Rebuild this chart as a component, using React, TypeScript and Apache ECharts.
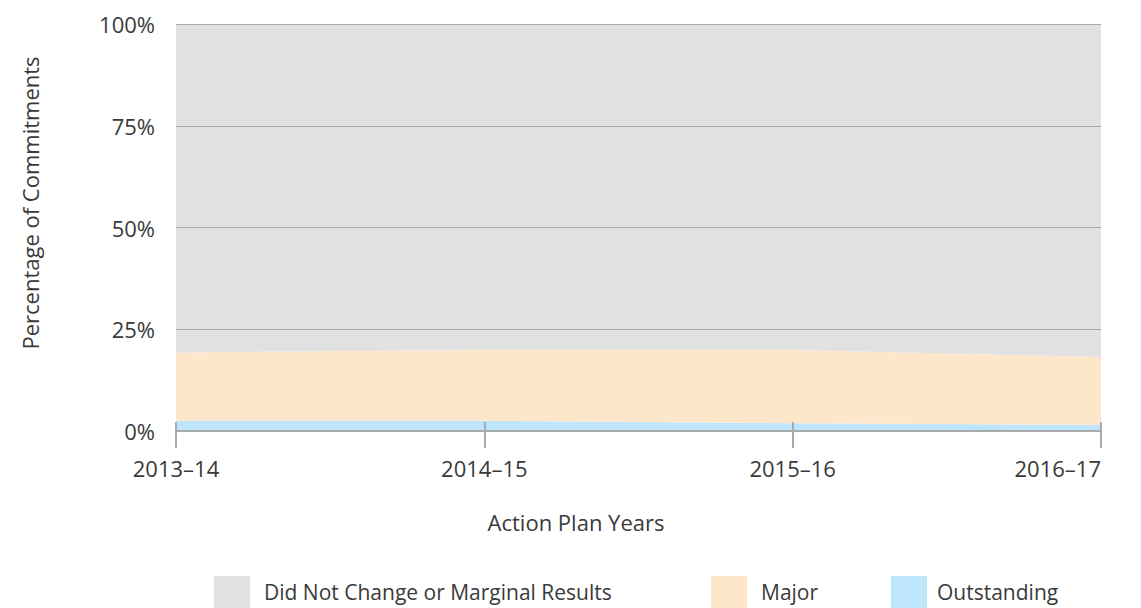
import React, { useEffect, useRef } from "react";
import * as echarts from "echarts";

const categories = ["2013–14", "2014–15", "2015–16", "2016–17"];
const outstanding = [2.5, 2.5, 1.9, 1.5];
const major = [16.8, 17.4, 18.0, 16.7];
const didNotChange = [80.7, 80.1, 80.1, 81.8];
const yTicks = [0, 25, 50, 75, 100];

const FONT = "'Open Sans', Lato, sans-serif";
const TEXT = "#3a3a3a";
const FS = 22;

export default function App() {
  const ref = useRef<HTMLDivElement>(null);
  useEffect(() => {
    if (!ref.current) return;
    const chart = echarts.init(ref.current, null, { renderer: "svg" });
    const area = (name: string, data: number[], color: string) => ({
      name,
      type: "line",
      stack: "total",
      data,
      symbol: "none",
      lineStyle: { width: 0 },
      areaStyle: { color, opacity: 1 },
      itemStyle: { color },
      silent: true,
    });
    const legendText = { fontSize: 21, color: TEXT, fontFamily: FONT, padding: [2, 0, 0, 9] };
    const legendBase = {
      top: 576,
      itemWidth: 36,
      itemHeight: 32,
      icon: "rect",
      padding: 0,
      textStyle: legendText,
    };
    chart.setOption({
      animation: false,
      textStyle: { fontFamily: FONT },
      grid: { left: 176, right: 40, top: 24, bottom: 177 },
      xAxis: [
        {
          type: "category",
          data: categories,
          boundaryGap: false,
          axisLine: { lineStyle: { color: "#aaaaaa", width: 2 } },
          axisTick: { length: 17, lineStyle: { color: "#aaaaaa", width: 2 } },
          axisLabel: {
            margin: 26,
            fontSize: FS,
            color: TEXT,
            fontFamily: FONT,
            alignMaxLabel: "right",
          },
          z: 10,
        },
        {
          type: "category",
          data: categories,
          boundaryGap: false,
          position: "bottom",
          axisLine: { show: false },
          axisTick: { inside: true, length: 9, lineStyle: { color: "#aaaaaa", width: 2 } },
          axisLabel: { show: false },
          z: 10,
        },
      ],
      yAxis: {
        type: "value",
        min: 0,
        max: 100,
        interval: 25,
        axisLine: { show: false },
        axisTick: { show: false },
        axisLabel: {
          margin: 21,
          fontSize: FS,
          color: TEXT,
          fontFamily: FONT,
          formatter: (v: number) => (yTicks.includes(v) ? v + "%" : ""),
        },
        splitLine: { lineStyle: { color: "#a8a8a8", width: 1 } },
        z: 10,
      },
      legend: [
        { ...legendBase, data: ["Did Not Change or Marginal Results"], left: 214 },
        { ...legendBase, data: ["Major"], left: 711 },
        {
          ...legendBase,
          data: ["Outstanding"],
          left: 891,
          textStyle: { ...legendText, padding: [2, 0, 0, 5] },
        },
      ],
      graphic: [
        {
          type: "text",
          x: 576,
          y: 522,
          style: {
            text: "Action Plan Years",
            fontSize: FS,
            fill: TEXT,
            fontFamily: FONT,
            align: "center",
            verticalAlign: "middle",
          },
        },
        {
          type: "text",
          x: 30,
          y: 203,
          rotation: Math.PI / 2,
          style: {
            text: "Percentage of Commitments",
            fontSize: FS,
            fill: TEXT,
            fontFamily: FONT,
            align: "center",
            verticalAlign: "middle",
          },
        },
      ],
      series: [
        area("Outstanding", outstanding, "#bde5fb"),
        area("Major", major, "#fee6cb"),
        area("Did Not Change or Marginal Results", didNotChange, "#e1e1e1"),
      ],
    });
    return () => chart.dispose();
  }, []);
  return <div ref={ref} style={{ width: 1141, height: 608, position: "absolute", left: 0, top: 0 }} />;
}
